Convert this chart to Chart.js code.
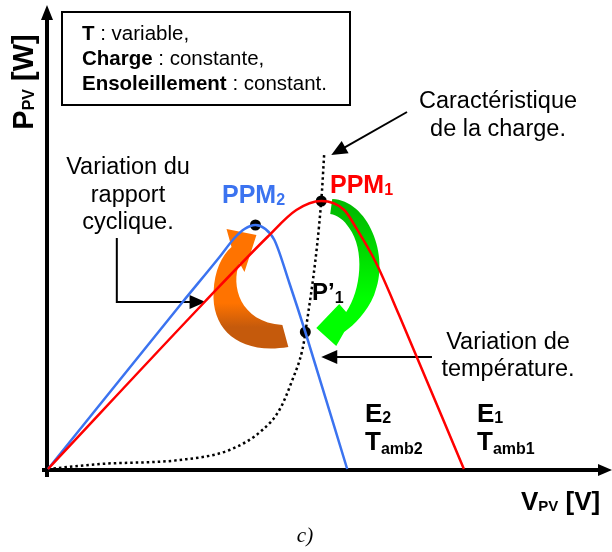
<!DOCTYPE html>
<html>
<head>
<meta charset="utf-8">
<script src="https://cdn.jsdelivr.net/npm/chart.js@4.4.1/dist/chart.umd.min.js"></script>
<style>
body { margin: 0; background: #fff; }
#wrap { width: 612px; height: 552px; }
</style>
</head>
<body>
<div id="wrap"><canvas id="chart" width="612" height="552"></canvas></div>
<script>
// P-V characteristic, irradiance E1 / ambient temperature Tamb1
var e1Voltage = [0, 15.7, 22.0, 24.9, 27.4, 29.7, 30.9, 32.9, 35.2, 41.7];
var e1Power   = [0, 16.7, 23.2, 25.9, 26.8, 25.9, 24.1, 20.6, 15.4, 0];

// P-V characteristic, E2 / Tamb2
var e2Voltage = [0, 13.5, 17.2, 18.7, 19.7, 20.8, 21.8, 22.7, 24.2, 25.8, 30.0];
var e2Power   = [0, 16.7, 21.2, 23.1, 24.0, 24.4, 24.0, 22.9, 18.6, 13.7, 0];

// load characteristic (dotted)
var loadVoltage = [0, 5.2, 13.2, 18.2, 21.5, 23.2, 24.5, 25.5, 25.8, 27.4, 27.7];
var loadPower   = [0, 0.5, 0.9, 1.9, 3.9, 5.9, 8.9, 11.9, 13.6, 26.8, 31.6];

// operating points
var opNames   = ['PPM2', 'PPM1', "P'1"];
var opVoltage = [20.8, 27.4, 25.8];
var opPower   = [24.4, 26.8, 13.7];

function toXY(xs, ys) {
    return xs.map(function (x, i) { return { x: x, y: ys[i] }; });
}

// curved block arrows, path in chart units
var orangeArrow = [
    ['M', 18.4, 22.2],
    ['L', 17.9, 24.0], ['L', 20.9, 23.4], ['L', 19.7, 19.7], ['L', 19.2, 20.6],
    ['C', 18.3, 18.4, 19.2, 14.7, 23.5, 14.4],
    ['L', 24.1, 12.2],
    ['C', 19.2, 11.4, 16.4, 13.9, 16.6, 17.7],
    ['C', 16.7, 19.9, 17.4, 21.3, 18.4, 22.2]
];
var greenArrow = [
    ['M', 28.3, 25.5],
    ['L', 28.5, 27.0],
    ['C', 32.0, 26.9, 34.4, 21.4, 32.7, 17.4],
    ['C', 32.0, 15.7, 30.7, 14.4, 29.7, 13.7],
    ['L', 28.9, 12.3], ['L', 26.9, 14.1], ['L', 29.2, 16.5], ['L', 29.9, 15.7],
    ['C', 31.4, 17.9, 31.8, 21.9, 30.2, 24.1],
    ['C', 29.7, 24.9, 29.0, 25.4, 28.3, 25.5]
];

// callout pointers (polylines, arrowhead at the last point)
var pointers = [
    [[36.0, 35.7], [28.4, 31.4]],
    [[6.9, 23.1], [6.9, 16.7], [15.8, 16.7]],
    [[38.5, 11.2], [27.4, 11.2]]
];

var SANS = '"Liberation Sans", Arial, sans-serif';

function fontOf(p) {
    return (p.i ? 'italic ' : '') + (p.b ? 'bold ' : '') + p.s + 'px ' + (p.f || SANS);
}

function drawRich(ctx, parts, x, y, align) {
    var total = 0;
    parts.forEach(function (p) {
        ctx.font = fontOf(p);
        p.w = ctx.measureText(p.t).width;
        total += p.w;
    });
    var cx = x;
    if (align === 'center') cx = x - total / 2;
    if (align === 'right') cx = x - total;
    ctx.textAlign = 'left';
    ctx.textBaseline = 'alphabetic';
    parts.forEach(function (p) {
        ctx.font = fontOf(p);
        ctx.fillStyle = p.c || '#000';
        ctx.fillText(p.t, cx, y + (p.dy || 0));
        cx += p.w;
    });
}

function arrowHead(ctx, fx, fy, tx, ty, len, half) {
    var a = Math.atan2(ty - fy, tx - fx);
    ctx.beginPath();
    ctx.moveTo(tx, ty);
    ctx.lineTo(tx - len * Math.cos(a) + half * Math.sin(a), ty - len * Math.sin(a) - half * Math.cos(a));
    ctx.lineTo(tx - len * Math.cos(a) - half * Math.sin(a), ty - len * Math.sin(a) + half * Math.cos(a));
    ctx.closePath();
    ctx.fill();
}

function tracePath(ctx, sx, sy, path) {
    ctx.beginPath();
    path.forEach(function (s) {
        if (s[0] === 'M') ctx.moveTo(sx(s[1]), sy(s[2]));
        else if (s[0] === 'L') ctx.lineTo(sx(s[1]), sy(s[2]));
        else ctx.bezierCurveTo(sx(s[1]), sy(s[2]), sx(s[3]), sy(s[4]), sx(s[5]), sy(s[6]));
    });
    ctx.closePath();
}

var decorPlugin = {
    id: 'decor',
    beforeDatasetsDraw: function (chart) {
        var ctx = chart.ctx;
        var xs = chart.scales.x, ys = chart.scales.y;
        var sx = function (v) { return xs.getPixelForValue(v); };
        var sy = function (v) { return ys.getPixelForValue(v); };
        var ox = sx(0), oy = sy(0);

        ctx.save();
        // axes with arrowheads
        ctx.strokeStyle = '#000';
        ctx.fillStyle = '#000';
        ctx.lineWidth = 4;
        ctx.beginPath();
        ctx.moveTo(ox - 1, oy + 8);
        ctx.lineTo(ox - 1, 18);
        ctx.moveTo(ox - 6, oy + 1);
        ctx.lineTo(600, oy + 1);
        ctx.stroke();
        arrowHead(ctx, ox - 1, 100, ox - 1, 5, 15, 6);
        arrowHead(ctx, 500, oy + 1, 612, oy + 1, 14, 6);

        // orange arrow (duty cycle), darker on its far side
        var g1 = ctx.createLinearGradient(0, sy(16.6), 0, sy(14.2));
        g1.addColorStop(0, '#ff7300');
        g1.addColorStop(1, '#c55a0c');
        tracePath(ctx, sx, sy, orangeArrow);
        ctx.fillStyle = g1;
        ctx.fill();

        // green arrow (temperature)
        var g2 = ctx.createLinearGradient(0, sy(26), 0, sy(17));
        g2.addColorStop(0, '#00bb00');
        g2.addColorStop(1, '#00ff00');
        tracePath(ctx, sx, sy, greenArrow);
        ctx.fillStyle = g2;
        ctx.fill();

        // callout pointers
        ctx.strokeStyle = '#000';
        ctx.fillStyle = '#000';
        ctx.lineWidth = 2;
        pointers.forEach(function (pts) {
            var n = pts.length;
            var tip = [sx(pts[n - 1][0]), sy(pts[n - 1][1])];
            var prev = [sx(pts[n - 2][0]), sy(pts[n - 2][1])];
            var a = Math.atan2(tip[1] - prev[1], tip[0] - prev[0]);
            ctx.beginPath();
            ctx.moveTo(sx(pts[0][0]), sy(pts[0][1]));
            for (var i = 1; i < n - 1; i++) ctx.lineTo(sx(pts[i][0]), sy(pts[i][1]));
            ctx.lineTo(tip[0] - 10 * Math.cos(a), tip[1] - 10 * Math.sin(a));
            ctx.stroke();
            arrowHead(ctx, prev[0], prev[1], tip[0], tip[1], 16, 7);
        });
        ctx.restore();
    },
    afterDraw: function (chart) {
        var ctx = chart.ctx;
        ctx.save();

        // parameter box
        ctx.strokeStyle = '#000';
        ctx.lineWidth = 2;
        ctx.strokeRect(62, 12, 288, 93);
        drawRich(ctx, [{ t: 'T', s: 20.5, b: true }, { t: ' : variable,', s: 20.5 }], 82, 40, 'left');
        drawRich(ctx, [{ t: 'Charge', s: 20.5, b: true }, { t: ' : constante,', s: 20.5 }], 82, 65, 'left');
        drawRich(ctx, [{ t: 'Ensoleillement', s: 20.5, b: true }, { t: ' : constant.', s: 20.5 }], 82, 90, 'left');

        // callout texts
        drawRich(ctx, [{ t: 'Caractéristique', s: 23.5 }], 498, 108, 'center');
        drawRich(ctx, [{ t: 'de la charge.', s: 23.5 }], 498, 136, 'center');
        drawRich(ctx, [{ t: 'Variation du', s: 23.5 }], 128, 174, 'center');
        drawRich(ctx, [{ t: 'rapport', s: 23.5 }], 128, 202, 'center');
        drawRich(ctx, [{ t: 'cyclique.', s: 23.5 }], 128, 229, 'center');
        drawRich(ctx, [{ t: 'Variation de', s: 23.5 }], 508, 349, 'center');
        drawRich(ctx, [{ t: 'température.', s: 23.5 }], 508, 376, 'center');

        // operating point labels
        drawRich(ctx, [{ t: 'PPM', s: 25, b: true, c: '#3b73f0' }, { t: '2', s: 16, b: true, c: '#3b73f0', dy: 2 }], 222, 203, 'left');
        drawRich(ctx, [{ t: 'PPM', s: 25, b: true, c: '#ff0000' }, { t: '1', s: 16, b: true, c: '#ff0000', dy: 2 }], 330, 193, 'left');
        drawRich(ctx, [{ t: 'P’', s: 24, b: true }, { t: '1', s: 16, b: true, dy: 3 }], 312, 300, 'left');

        // curve labels
        drawRich(ctx, [{ t: 'E', s: 26, b: true }, { t: '2', s: 16, b: true, dy: 1 }], 365, 422, 'left');
        drawRich(ctx, [{ t: 'T', s: 26, b: true }, { t: 'amb2', s: 16, b: true, dy: 4 }], 365, 450, 'left');
        drawRich(ctx, [{ t: 'E', s: 26, b: true }, { t: '1', s: 16, b: true, dy: 1 }], 477, 422, 'left');
        drawRich(ctx, [{ t: 'T', s: 26, b: true }, { t: 'amb1', s: 16, b: true, dy: 4 }], 477, 450, 'left');

        // axis titles
        drawRich(ctx, [{ t: 'V', s: 26, b: true }, { t: 'PV', s: 15, b: true, dy: 1 }, { t: ' [V]', s: 26, b: true }], 521, 510, 'left');
        ctx.translate(33, 82);
        ctx.rotate(-Math.PI / 2);
        drawRich(ctx, [{ t: 'P', s: 29, b: true }, { t: 'PV', s: 16, b: true, dy: 1 }, { t: ' [W]', s: 29, b: true }], 0, 0, 'center');
        ctx.setTransform(1, 0, 0, 1, 0, 0);

        // panel caption
        drawRich(ctx, [{ t: 'c)', s: 21, i: true, f: '"Liberation Serif", "Times New Roman", serif' }], 305, 542, 'center');
        ctx.restore();
    }
};

new Chart(document.getElementById('chart').getContext('2d'), {
    type: 'scatter',
    data: {
        datasets: [
            {
                label: 'E1',
                data: toXY(e1Voltage, e1Power),
                showLine: true,
                borderColor: '#ff0000',
                borderWidth: 2.5,
                pointRadius: 0,
                cubicInterpolationMode: 'monotone',
                clip: false
            },
            {
                label: 'E2',
                data: toXY(e2Voltage, e2Power),
                showLine: true,
                borderColor: '#3b73f0',
                borderWidth: 2.5,
                pointRadius: 0,
                cubicInterpolationMode: 'monotone',
                clip: false
            },
            {
                label: 'Charge',
                data: toXY(loadVoltage, loadPower),
                showLine: true,
                borderColor: '#000',
                borderWidth: 2.5,
                borderDash: [2.5, 3],
                pointRadius: 0,
                cubicInterpolationMode: 'monotone',
                clip: false
            },
            {
                label: 'Points',
                data: toXY(opVoltage, opPower),
                showLine: false,
                pointRadius: 5.5,
                pointBackgroundColor: '#000',
                pointBorderWidth: 0,
                clip: false
            }
        ]
    },
    options: {
        responsive: false,
        animation: false,
        devicePixelRatio: 1,
        layout: {
            padding: { left: 48, right: 4, top: 19, bottom: 83 }
        },
        plugins: {
            legend: { display: false },
            tooltip: { enabled: false }
        },
        scales: {
            x: { type: 'linear', min: 0, max: 56, display: false },
            y: { type: 'linear', min: 0, max: 45, display: false }
        }
    },
    plugins: [decorPlugin]
});
</script>
</body>
</html>
